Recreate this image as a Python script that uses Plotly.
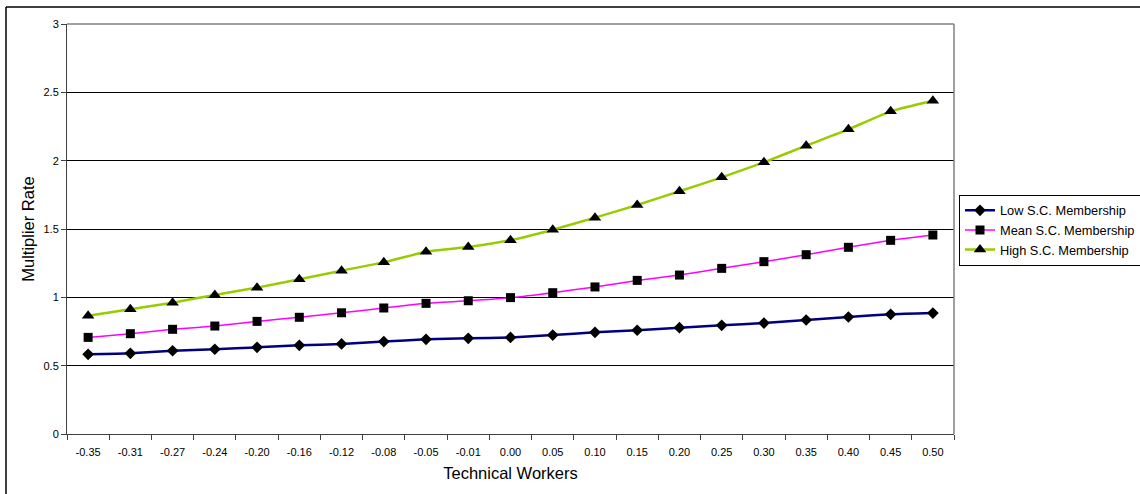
import plotly.graph_objects as go

# Technical workers levels (category axis) and multiplier rates per membership level
categories = ["-0.35", "-0.31", "-0.27", "-0.24", "-0.20", "-0.16", "-0.12", "-0.08",
              "-0.05", "-0.01", "0.00", "0.05", "0.10", "0.15", "0.20", "0.25",
              "0.30", "0.35", "0.40", "0.45", "0.50"]

low_membership = [0.583, 0.590, 0.609, 0.620, 0.634, 0.649, 0.659, 0.676, 0.693, 0.700,
                  0.707, 0.724, 0.744, 0.759, 0.778, 0.795, 0.812, 0.834, 0.856, 0.876, 0.885]
mean_membership = [0.707, 0.734, 0.766, 0.790, 0.824, 0.854, 0.887, 0.922, 0.956, 0.975,
                   0.998, 1.034, 1.076, 1.124, 1.163, 1.212, 1.261, 1.312, 1.366, 1.417, 1.456]
high_membership = [0.866, 0.912, 0.961, 1.017, 1.071, 1.132, 1.195, 1.256, 1.334, 1.368,
                   1.418, 1.495, 1.583, 1.676, 1.776, 1.878, 1.988, 2.110, 2.229, 2.361, 2.439]

y_ticks = [0, 0.5, 1, 1.5, 2, 2.5, 3]
y_tick_text = ["0", "0.5", "1", "1.5", "2", "2.5", "3"]

FONT = "Liberation Sans, Arial, sans-serif"

fig = go.Figure()

series = [
    ("Low S.C. Membership", low_membership, "#000080", 2.5, "diamond", 9),
    ("Mean S.C. Membership", mean_membership, "#FF00FF", 1.5, "square", 9),
    ("High S.C. Membership", high_membership, "#99CC00", 2.5, "triangle-up", 11),
]
for name, vals, color, width, symbol, size in series:
    fig.add_trace(go.Scatter(
        x=categories, y=vals, name=name, mode="lines+markers",
        line=dict(color=color, width=width, shape="spline", smoothing=0.5),
        marker=dict(symbol=symbol, size=size, color="black",
                    line=dict(width=0)),
    ))

fig.update_layout(
    width=1140, height=494,
    margin=dict(l=67, r=186, t=24, b=60, autoexpand=False),
    paper_bgcolor="white", plot_bgcolor="white",
    font=dict(family=FONT, color="black"),
    showlegend=True,
    legend=dict(
        x=(959 - 67) / 887, y=(434 - 230) / 410, xanchor="left", yanchor="middle",
        bordercolor="black", borderwidth=1,
        font=dict(size=12.8, family=FONT),
        tracegroupgap=0, itemwidth=30,
        bgcolor="white",
    ),
    xaxis=dict(
        type="category",
        tickson="boundaries",
        ticks="outside", ticklen=5, tickcolor="#404040", tickwidth=1,
        ticklabelstandoff=8,
        showline=True, linecolor="#404040", linewidth=1,
        showgrid=False, zeroline=False,
        tickfont=dict(size=11, family=FONT),
        title=dict(text="Technical Workers", font=dict(size=16.5, family=FONT), standoff=10),
        range=[-0.5, len(categories) - 0.5],
        fixedrange=True,
    ),
    yaxis=dict(
        range=[0, 3],
        tickvals=y_ticks, ticktext=y_tick_text,
        ticks="outside", ticklen=5, tickcolor="#404040", tickwidth=1,
        showline=True, linecolor="#404040", linewidth=1,
        showgrid=True, gridcolor="black", gridwidth=1,
        zeroline=False,
        tickfont=dict(size=11, family=FONT),
        title=dict(text="Multiplier Rate", font=dict(size=16.5, family=FONT), standoff=4),
        fixedrange=True,
    ),
    shapes=[
        # plot area frame (top and right in grey)
        dict(type="line", xref="paper", yref="paper", x0=0, x1=1, y0=1, y1=1,
             line=dict(color="#808080", width=1.5)),
        dict(type="line", xref="paper", yref="paper", x0=1, x1=1, y0=0, y1=1,
             line=dict(color="#808080", width=1.5)),
        # chart frame: top and left edges
        dict(type="line", xref="paper", yref="paper",
             x0=(6 - 67) / 887, x1=(1140 - 67) / 887,
             y0=(434 - 7) / 410, y1=(434 - 7) / 410,
             line=dict(color="black", width=1.5)),
        dict(type="line", xref="paper", yref="paper",
             x0=(6 - 67) / 887, x1=(6 - 67) / 887,
             y0=(434 - 7) / 410, y1=(434 - 500) / 410,
             line=dict(color="black", width=1.5)),
    ],
)

fig.write_html("out.html")
